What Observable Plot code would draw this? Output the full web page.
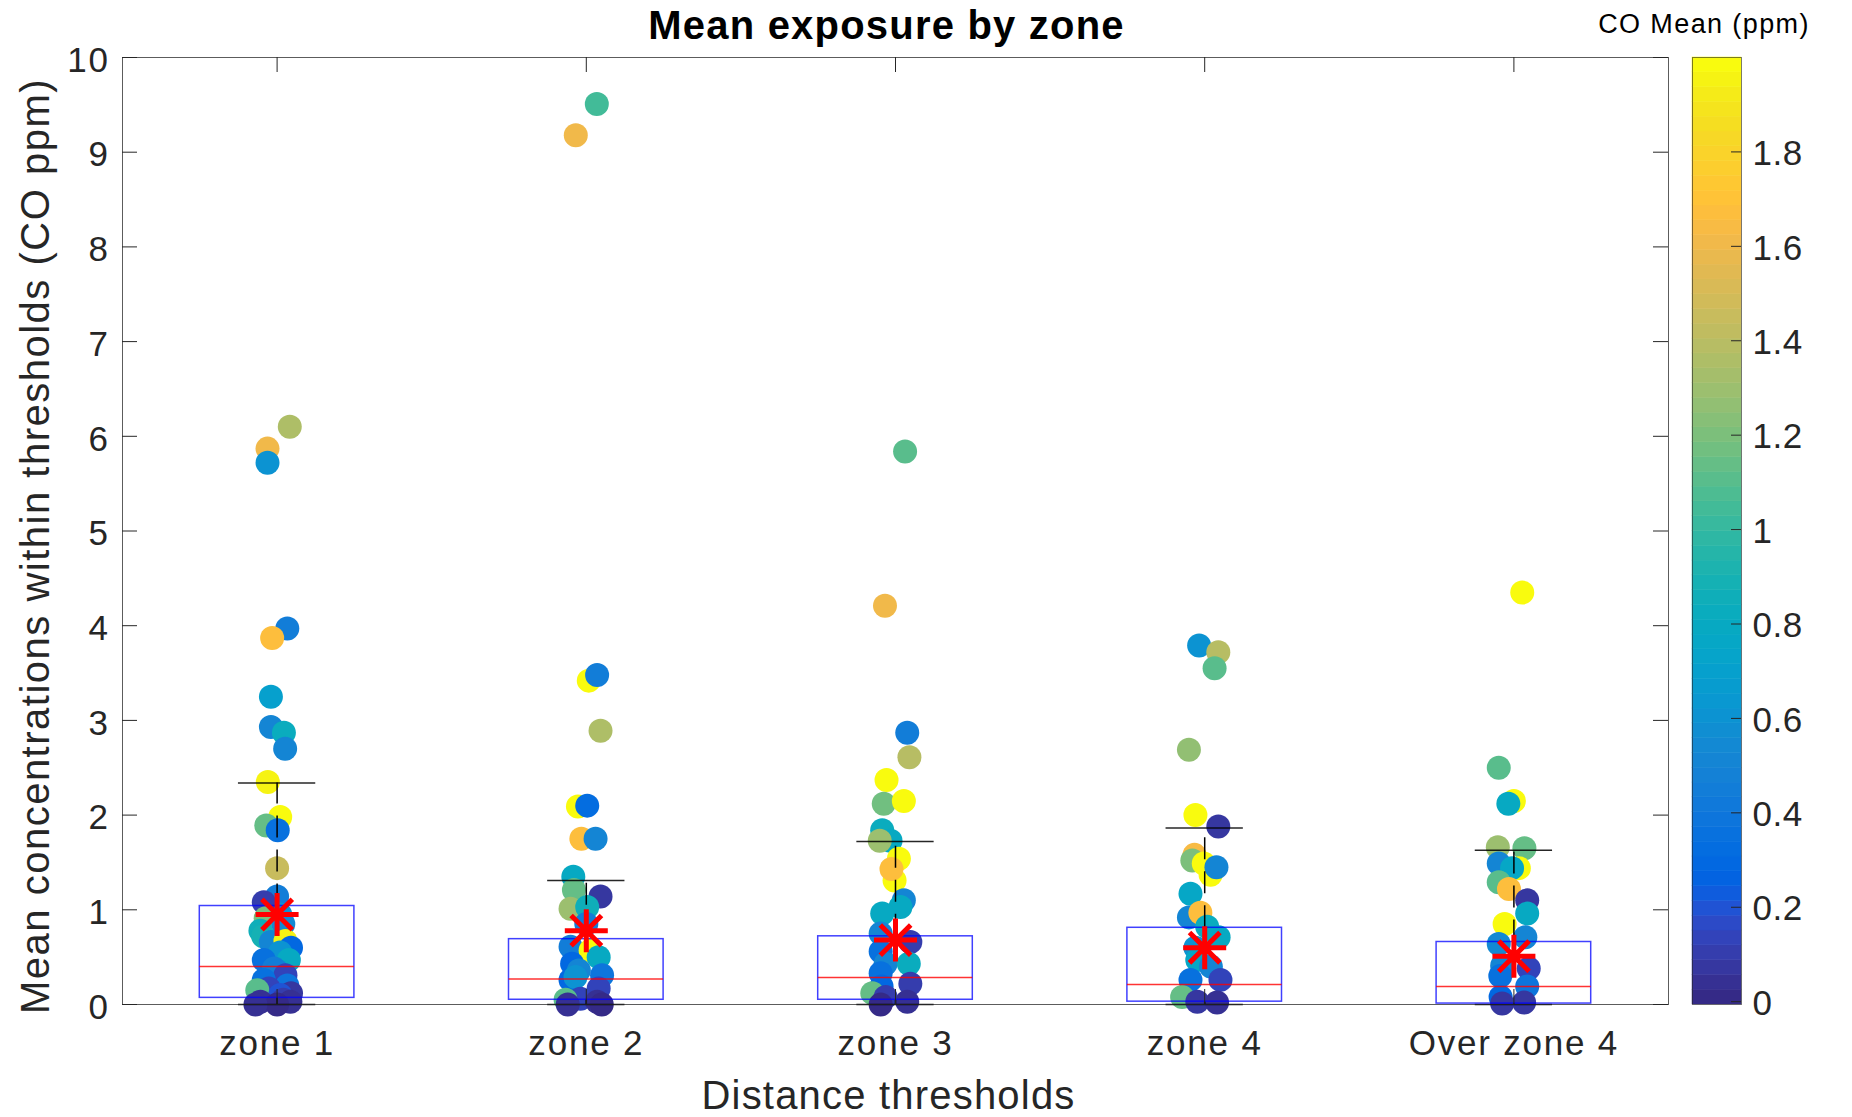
<!DOCTYPE html>
<html><head><meta charset="utf-8">
<script src="https://cdn.jsdelivr.net/npm/d3@7"></script>
<script src="https://cdn.jsdelivr.net/npm/@observablehq/plot@0.6"></script>
<style>
html,body{margin:0;padding:0;background:#fff;overflow:hidden;}
#wrap{position:relative;width:1852px;height:1117px;background:#fff;}
#wrap svg{position:absolute;top:0;overflow:visible;max-width:none;}
</style></head><body><div id="wrap"></div>
<script>
// ---------------- data ----------------
const zones = ["zone 1", "zone 2", "zone 3", "zone 4", "Over zone 4"];
const yTicks = [0, 1, 2, 3, 4, 5, 6, 7, 8, 9, 10];
const cbTicks = [0, 0.2, 0.4, 0.6, 0.8, 1, 1.2, 1.4, 1.6, 1.8];
const coMin = -0.006, coMax = 2.0;

const titleText = "Mean exposure by zone";
const xLabelText = "Distance thresholds";
const yLabelText = "Mean concentrations within thresholds (CO ppm)";
const cbLabelText = "CO Mean (ppm)";

// box plot statistics per zone
const q1 = [0.07, 0.05, 0.05, 0.03, 0.01];
const medians = [0.40, 0.27, 0.285, 0.21, 0.19];
const q3 = [1.04, 0.69, 0.72, 0.81, 0.66];
const whiskerLow = [0, 0, 0, 0, 0];
const whiskerHigh = [2.34, 1.31, 1.72, 1.865, 1.63];
const means = [0.95, 0.78, 0.68, 0.60, 0.51];

// jittered points: value (ppm), horizontal jitter (zone units), CO mean (colour)
const z1Value = [6.10,5.87,5.72,3.97,3.87,3.25,2.93,2.87,2.70,2.35,1.98,1.89,1.84,1.44,1.14,0.95,1.08,0.91,0.85,0.78,0.72,0.66,0.67,0.60,0.55,0.47,0.47,0.38,0.35,0.31,0.26,0.20,0.17,0.15,0.12,0.10,0.05,0.03,0.03,0.00,0.00];
const z1Jitter = [0.041,-0.031,-0.031,0.033,-0.016,-0.020,-0.020,0.022,0.026,-0.030,0.010,-0.035,0.002,0.000,0.000,0.010,-0.043,-0.037,0.020,-0.054,-0.045,-0.020,0.027,0.045,0.010,-0.043,0.038,-0.010,0.000,0.027,-0.043,0.033,-0.027,-0.064,0.045,0.010,0.020,-0.054,0.043,0.000,-0.070];
const z1CO = [1.35,1.62,0.62,0.45,1.68,0.70,0.52,0.82,0.50,1.96,1.97,1.15,0.35,1.45,0.45,0.60,0.10,1.20,0.55,0.85,0.90,0.50,1.96,0.30,0.60,0.35,0.80,0.45,0.45,0.15,0.35,0.40,0.15,1.10,0.08,0.20,0.10,0.05,0.05,0.02,0.03];

const z2Value = [9.51,9.18,3.42,3.48,2.89,2.09,2.10,1.75,1.75,1.35,1.21,1.14,1.01,1.03,0.85,0.61,0.57,0.50,0.43,0.36,0.31,0.26,0.29,0.17,0.06,0.05,0.03,0.00,0.00];
const z2Jitter = [0.034,-0.034,0.008,0.035,0.046,-0.027,0.003,-0.016,0.030,-0.042,-0.040,0.046,-0.051,0.003,0.000,-0.051,0.014,0.040,-0.046,-0.024,0.051,-0.051,-0.035,0.040,-0.019,-0.067,0.035,-0.060,0.050];
const z2CO = [1.05,1.62,1.97,0.45,1.35,1.97,0.33,1.68,0.50,0.80,1.15,0.08,1.28,0.85,0.45,0.45,1.97,0.80,0.30,0.50,0.40,0.30,0.60,0.15,0.12,1.10,0.05,0.03,0.02];

const z3Value = [5.84,4.21,2.87,2.61,2.37,2.12,2.15,1.84,1.73,1.73,1.54,1.31,1.43,1.10,1.03,0.96,0.75,0.66,0.56,0.43,0.43,0.33,0.22,0.19,0.12,0.08,0.03,0.00];
const z3Jitter = [0.031,-0.034,0.038,0.045,-0.029,-0.038,0.027,-0.043,-0.016,-0.051,0.011,-0.003,-0.013,0.027,0.016,-0.043,-0.048,0.048,-0.048,-0.032,0.043,-0.048,0.048,-0.045,-0.075,-0.032,0.038,-0.048];
const z3CO = [1.10,1.62,0.45,1.38,1.97,1.18,1.97,0.82,0.80,1.28,1.97,1.97,1.68,0.50,0.80,0.80,0.50,0.10,0.35,0.50,0.82,0.35,0.10,0.30,1.15,0.10,0.05,0.02];

const z4Value = [3.79,3.72,3.55,2.69,2.00,1.88,1.58,1.52,1.37,1.49,1.45,1.17,0.92,0.97,0.82,0.71,0.60,0.47,0.40,0.26,0.26,0.08,0.03,0.02];
const z4Jitter = [-0.018,0.044,0.032,-0.051,-0.030,0.044,-0.033,-0.040,0.019,-0.003,0.038,-0.046,-0.051,-0.014,0.008,0.045,-0.030,-0.024,0.020,-0.046,0.051,-0.073,-0.024,0.040];
const z4CO = [0.62,1.40,1.12,1.25,1.97,0.07,1.65,1.20,1.97,1.97,0.50,0.75,0.50,1.68,0.82,0.80,0.60,0.75,0.50,0.35,0.15,1.15,0.08,0.05];

const z5Value = [4.35,2.50,2.15,2.12,1.66,1.65,1.44,1.49,1.44,1.29,1.22,1.10,0.96,0.85,0.71,0.64,0.41,0.38,0.30,0.19,0.08,0.02,0.01];
const z5Jitter = [0.027,-0.049,0.000,-0.018,-0.052,0.034,0.016,-0.049,-0.006,-0.049,-0.016,0.043,0.043,-0.030,0.037,-0.049,-0.038,0.048,-0.044,0.043,-0.043,0.033,-0.038];
const z5CO = [1.97,1.12,1.97,0.78,1.30,1.15,1.97,0.50,0.75,1.12,1.68,0.07,0.80,1.97,0.50,0.55,0.50,0.12,0.35,0.40,0.30,0.06,0.08];

// MATLAB parula colormap (64 entries)
const PARULA = [
[0.2081,0.1663,0.5292],[0.2116,0.1898,0.5777],[0.2123,0.2138,0.6270],[0.2081,0.2386,0.6771],
[0.1959,0.2645,0.7279],[0.1707,0.2919,0.7792],[0.1253,0.3242,0.8303],[0.0591,0.3598,0.8683],
[0.0117,0.3875,0.8820],[0.0060,0.4086,0.8828],[0.0165,0.4266,0.8786],[0.0329,0.4430,0.8720],
[0.0498,0.4586,0.8641],[0.0629,0.4737,0.8554],[0.0723,0.4887,0.8467],[0.0779,0.5040,0.8384],
[0.0793,0.5200,0.8312],[0.0749,0.5375,0.8263],[0.0641,0.5570,0.8240],[0.0488,0.5772,0.8228],
[0.0343,0.5966,0.8199],[0.0265,0.6137,0.8135],[0.0239,0.6287,0.8038],[0.0231,0.6418,0.7913],
[0.0228,0.6535,0.7768],[0.0267,0.6642,0.7607],[0.0384,0.6743,0.7436],[0.0590,0.6838,0.7254],
[0.0843,0.6928,0.7062],[0.1133,0.7015,0.6859],[0.1453,0.7098,0.6646],[0.1801,0.7177,0.6424],
[0.2178,0.7250,0.6193],[0.2586,0.7317,0.5954],[0.3022,0.7376,0.5712],[0.3482,0.7424,0.5473],
[0.3953,0.7459,0.5244],[0.4420,0.7481,0.5033],[0.4871,0.7491,0.4840],[0.5300,0.7491,0.4661],
[0.5709,0.7485,0.4494],[0.6099,0.7473,0.4337],[0.6473,0.7456,0.4188],[0.6834,0.7435,0.4044],
[0.7184,0.7411,0.3905],[0.7525,0.7384,0.3768],[0.7858,0.7356,0.3633],[0.8185,0.7327,0.3498],
[0.8507,0.7299,0.3360],[0.8824,0.7274,0.3217],[0.9139,0.7258,0.3063],[0.9450,0.7261,0.2886],
[0.9739,0.7314,0.2666],[0.9938,0.7455,0.2403],[0.9990,0.7653,0.2164],[0.9955,0.7861,0.1967],
[0.9880,0.8066,0.1794],[0.9789,0.8271,0.1633],[0.9697,0.8481,0.1475],[0.9626,0.8705,0.1309],
[0.9589,0.8949,0.1132],[0.9598,0.9218,0.0948],[0.9661,0.9514,0.0755],[0.9763,0.9831,0.0538]];

// ---------------- build tables ----------------
const zoneValues = [z1Value, z2Value, z3Value, z4Value, z5Value];
const zoneJitters = [z1Jitter, z2Jitter, z3Jitter, z4Jitter, z5Jitter];
const zoneCOs = [z1CO, z2CO, z3CO, z4CO, z5CO];
const points = [];
zoneValues.forEach((vals, zi) => vals.forEach((v, k) => points.push({zone: zi + 1, value: v, jitter: zoneJitters[zi][k], co: zoneCOs[zi][k]})));
const stats = zones.map((name, i) => ({pos: i + 1, q1: q1[i], median: medians[i], q3: q3[i], lo: whiskerLow[i], hi: whiskerHigh[i], mean: means[i]}));
const zoneIdx = zones.map((_, i) => i + 1);
const NB = PARULA.length;
const bins = d3.range(NB).map(k => ({lo: coMin + (coMax - coMin) * k / NB, hi: coMin + (coMax - coMin) * (k + 1) / NB, mid: coMin + (coMax - coMin) * (k + 0.5) / NB}));

// ---------------- styles / layout ----------------
const W = 1852, H = 1117;
const mL = 122, mR = 184, mT = 57, mB = 113;
const frameW = W - mL - mR, frameH = H - mT - mB;
const TICK = 15, BOX = 0.25, CAP = 0.125;
const AXC = "#262626";
const FONT = "'Liberation Sans', Arial, Helvetica, sans-serif";

const parulaInterp = t => {
  const i = Math.max(0, Math.min(NB - 1, Math.floor(t * NB)));
  const c = PARULA[i];
  return `rgb(${Math.round(c[0]*255)},${Math.round(c[1]*255)},${Math.round(c[2]*255)})`;
};
const colorScale = () => ({type: "linear", domain: [coMin, coMax], interpolate: parulaInterp});

const asterisk8 = {
  draw(ctx, size) {
    const r = Math.sqrt(size / Math.PI), d = r * Math.SQRT1_2;
    ctx.moveTo(-r, 0); ctx.lineTo(r, 0);
    ctx.moveTo(0, -r); ctx.lineTo(0, r);
    ctx.moveTo(-d, -d); ctx.lineTo(d, d);
    ctx.moveTo(-d, d); ctx.lineTo(d, -d);
  }
};

const main = Plot.plot({
  width: W, height: H,
  marginLeft: mL, marginRight: mR, marginTop: mT, marginBottom: mB,
  x: {domain: [0.5, 5.5]},
  y: {domain: [0, 10]},
  color: colorScale(),
  style: {fontFamily: FONT, fontSize: "35px", letterSpacing: "1.8px", color: AXC, background: "transparent", overflow: "visible"},
  marks: [
    Plot.dot(points, {x: d => d.zone + d.jitter, y: "value", fill: "co", r: 12}),
    Plot.ruleX(stats, {x: "pos", y1: "q3", y2: "hi", stroke: "#000", strokeWidth: 1.5, strokeDasharray: "22,12"}),
    Plot.ruleX(stats, {x: "pos", y1: "lo", y2: "q1", stroke: "#000", strokeWidth: 1.5, strokeDasharray: "22,12"}),
    Plot.ruleY(stats, {y: "hi", x1: d => d.pos - CAP, x2: d => d.pos + CAP, stroke: "#000", strokeWidth: 1.5, strokeOpacity: 0.85}),
    Plot.ruleY(stats, {y: "lo", x1: d => d.pos - CAP, x2: d => d.pos + CAP, stroke: "#000", strokeWidth: 1.5, strokeOpacity: 0.85}),
    Plot.rect(stats, {x1: d => d.pos - BOX, x2: d => d.pos + BOX, y1: "q1", y2: "q3", fill: "none", stroke: "#0000ff", strokeWidth: 1.5, strokeOpacity: 0.75}),
    Plot.ruleY(stats, {y: "median", x1: d => d.pos - BOX, x2: d => d.pos + BOX, stroke: "#ff0000", strokeWidth: 1.5, strokeOpacity: 0.8}),
    Plot.dot(stats, {x: "pos", y: "mean", symbol: asterisk8, r: 21.5, stroke: "#ff0000", strokeWidth: 5, fill: "none"}),
    Plot.frame({stroke: AXC, strokeOpacity: 0.75}),
    Plot.tickY(yTicks, {y: d => d, insetRight: frameW - TICK, stroke: AXC}),
    Plot.tickY(yTicks, {y: d => d, insetLeft: frameW - TICK, stroke: AXC}),
    Plot.tickX(zoneIdx, {x: d => d, insetTop: frameH - TICK, stroke: AXC}),
    Plot.tickX(zoneIdx, {x: d => d, insetBottom: frameH - TICK, stroke: AXC}),
    Plot.axisY({ticks: yTicks, tickSize: 0, tickPadding: 12.7, label: null, tickFormat: d => String(d), fill: AXC, dy: 3}),
    Plot.axisX({ticks: zoneIdx, tickSize: 0, tickPadding: 26, label: null, tickFormat: d => zones[d - 1], fill: AXC}),
    Plot.text([titleText], {text: d => d, frameAnchor: "top", lineAnchor: "middle", textAnchor: "middle", dy: -31.5, dx: -9, fontSize: 40, fontWeight: "bold", fill: "#000"}),
    Plot.text([xLabelText], {text: d => d, frameAnchor: "bottom", lineAnchor: "middle", textAnchor: "middle", dy: 92, dx: -7, fontSize: 40, fill: AXC}),
    Plot.text([yLabelText], {text: d => d, frameAnchor: "left", lineAnchor: "middle", textAnchor: "middle", rotate: -90, dx: -86, dy: 15, fontSize: 40, fill: AXC})
  ]
});
main.style.left = "0px";

const cbW = 49, cbLeft = 1560, cbML = 132;
const cb = Plot.plot({
  width: 292, height: H,
  marginLeft: cbML, marginRight: 292 - cbML - cbW, marginTop: mT, marginBottom: mB,
  x: {domain: [0, 1], axis: null},
  y: {domain: [coMin, coMax], axis: null},
  color: colorScale(),
  style: {fontFamily: FONT, fontSize: "35px", letterSpacing: "0.5px", color: AXC, background: "transparent", overflow: "visible"},
  marks: [
    Plot.rect(bins, {x1: 0, x2: 1, y1: "lo", y2: "hi", fill: "mid", stroke: "mid", strokeWidth: 0.5}),
    Plot.frame({stroke: AXC, strokeOpacity: 0.6}),
    Plot.tickY(cbTicks, {y: d => d, insetLeft: cbW - 10, stroke: AXC}),
    Plot.axisY({anchor: "right", ticks: cbTicks, tickSize: 0, tickPadding: 11, label: null, tickFormat: d => String(d), fill: AXC, dy: 2}),
    Plot.text([cbLabelText], {text: d => d, frameAnchor: "top", lineAnchor: "middle", textAnchor: "middle", dy: -33, dx: -13, fontSize: 27, fill: "#000"})
  ]
});
cb.style.left = cbLeft + "px";

const wrap = document.getElementById("wrap");
wrap.appendChild(main);
wrap.appendChild(cb);
d3.select(main).selectAll('g[aria-label="text"] text').style("letter-spacing", "1.2px");
d3.select(main).selectAll('g[aria-label="text"] text').filter(function () { return this.textContent === yLabelText; }).style("letter-spacing", "1.5px");
d3.select(cb).selectAll('g[aria-label="text"] text').style("letter-spacing", "1.4px");
</script></body></html>
